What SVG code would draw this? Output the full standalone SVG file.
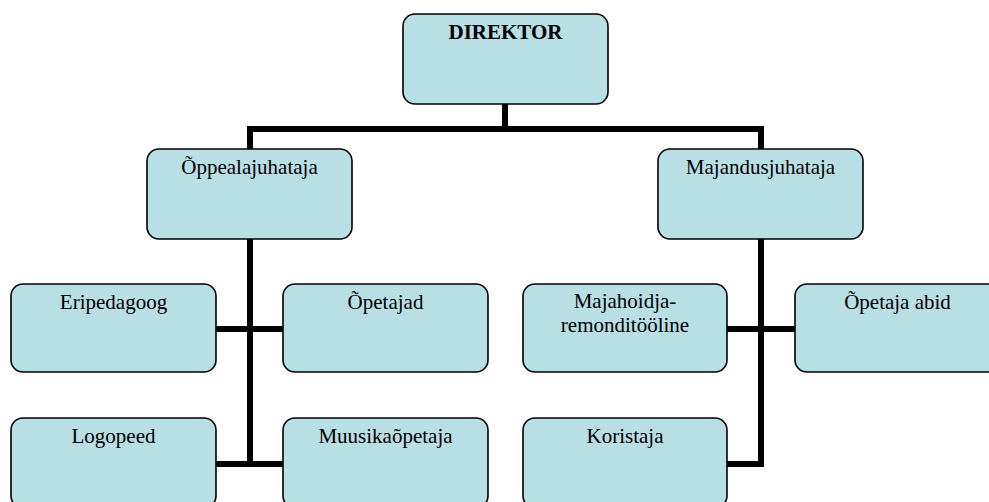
<svg xmlns="http://www.w3.org/2000/svg" width="989" height="502" viewBox="0 0 989 502">
<style>
.box{fill:#B7DFE4;stroke:#000;stroke-width:1.6}
.t{font-family:"Liberation Serif","Times New Roman",serif;font-size:21px;fill:#000;text-anchor:middle}
.b{font-weight:bold}
.c{fill:none;stroke:#000;stroke-width:6;stroke-linejoin:miter;stroke-linecap:butt}
</style>
<rect width="989" height="502" fill="#fff"/>
<g id="connectors">
<path class="c" d="M505,104 V129"/>
<path class="c" d="M250,149 V129 H761 V149"/>
<path class="c" d="M250,239 V464"/>
<path class="c" d="M216,329 H283"/>
<path class="c" d="M216,464 H283"/>
<path class="c" d="M761,239 V464 H727"/>
<path class="c" d="M727,329 H795"/>
</g>
<g id="direktor"><rect class="box" x="403" y="14" width="205" height="90" rx="12"/><text class="t b" x="505.5" y="39">DIREKTOR</text></g>
<g id="oppealajuhataja"><rect class="box" x="147" y="149" width="205" height="90" rx="12"/><text class="t" x="249.5" y="174">Õppealajuhataja</text></g>
<g id="majandusjuhataja"><rect class="box" x="658" y="149" width="205" height="90" rx="12"/><text class="t" x="760.5" y="174">Majandusjuhataja</text></g>
<g id="eripedagoog"><rect class="box" x="11" y="284" width="205" height="88" rx="12"/><text class="t" x="113.5" y="309">Eripedagoog</text></g>
<g id="opetajad"><rect class="box" x="283" y="284" width="205" height="88" rx="12"/><text class="t" x="385.5" y="309">Õpetajad</text></g>
<g id="majahoidja"><rect class="box" x="523" y="284" width="204" height="88" rx="12"/><text class="t" x="625" y="308">Majahoidja-</text><text class="t" x="625" y="332">remonditööline</text></g>
<g id="opetaja-abid"><rect class="box" x="795" y="284" width="205" height="88" rx="12"/><text class="t" x="897.5" y="309">Õpetaja abid</text></g>
<g id="logopeed"><rect class="box" x="11" y="418" width="205" height="90" rx="12"/><text class="t" x="113.5" y="443">Logopeed</text></g>
<g id="muusikaopetaja"><rect class="box" x="283" y="418" width="205" height="90" rx="12"/><text class="t" x="385.5" y="443">Muusikaõpetaja</text></g>
<g id="koristaja"><rect class="box" x="523" y="418" width="204" height="90" rx="12"/><text class="t" x="625" y="443">Koristaja</text></g>
</svg>
